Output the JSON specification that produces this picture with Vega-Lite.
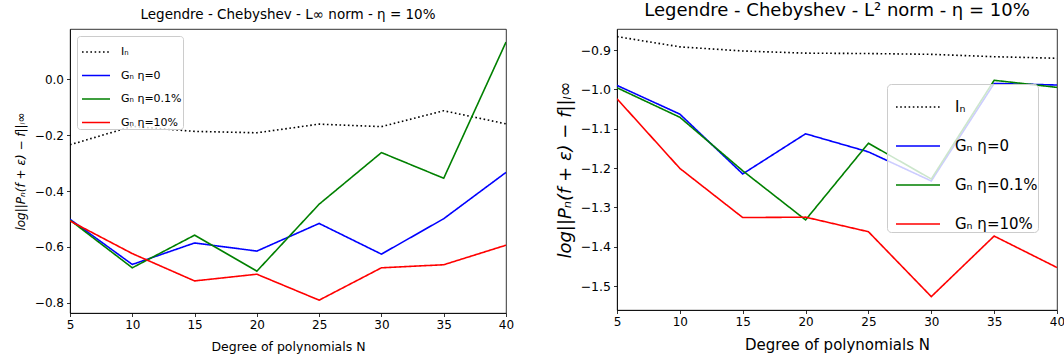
{
  "$schema": "https://vega.github.io/schema/vega-lite/v6.json",
  "background": "white",
  "padding": {"left": 13, "top": 1, "right": 2, "bottom": 2},
  "config": {
    "font": "DejaVu Sans",
    "view": {"stroke": "#000000", "strokeWidth": 0.8},
    "axis": {"grid": false, "domainColor": "#000000", "domainWidth": 0.8, "tickColor": "#000000", "tickWidth": 0.8, "tickSize": 3.5, "labelColor": "#000000", "titleColor": "#000000", "labelFont": "DejaVu Sans", "titleFont": "DejaVu Sans", "titleFontWeight": "normal", "labelPadding": 3},
    "title": {"font": "DejaVu Sans", "fontWeight": "normal", "color": "#000000"},
    "legend": {"labelFont": "DejaVu Sans", "labelColor": "#000000"}
  },
  "spacing": 40,
  "datasets": {
    "linf": [
      {"N": 5, "value": -0.234, "series": "Iₙ"},
      {"N": 10, "value": -0.168, "series": "Iₙ"},
      {"N": 15, "value": -0.186, "series": "Iₙ"},
      {"N": 20, "value": -0.191, "series": "Iₙ"},
      {"N": 25, "value": -0.160, "series": "Iₙ"},
      {"N": 30, "value": -0.169, "series": "Iₙ"},
      {"N": 35, "value": -0.112, "series": "Iₙ"},
      {"N": 40, "value": -0.159, "series": "Iₙ"},
      {"N": 5, "value": -0.501, "series": "Gₙ η=0"},
      {"N": 10, "value": -0.663, "series": "Gₙ η=0"},
      {"N": 15, "value": -0.586, "series": "Gₙ η=0"},
      {"N": 20, "value": -0.615, "series": "Gₙ η=0"},
      {"N": 25, "value": -0.516, "series": "Gₙ η=0"},
      {"N": 30, "value": -0.626, "series": "Gₙ η=0"},
      {"N": 35, "value": -0.499, "series": "Gₙ η=0"},
      {"N": 40, "value": -0.333, "series": "Gₙ η=0"},
      {"N": 5, "value": -0.504, "series": "Gₙ η=0.1%"},
      {"N": 10, "value": -0.675, "series": "Gₙ η=0.1%"},
      {"N": 15, "value": -0.558, "series": "Gₙ η=0.1%"},
      {"N": 20, "value": -0.687, "series": "Gₙ η=0.1%"},
      {"N": 25, "value": -0.447, "series": "Gₙ η=0.1%"},
      {"N": 30, "value": -0.262, "series": "Gₙ η=0.1%"},
      {"N": 35, "value": -0.354, "series": "Gₙ η=0.1%"},
      {"N": 40, "value": 0.134, "series": "Gₙ η=0.1%"},
      {"N": 5, "value": -0.507, "series": "Gₙ η=10%"},
      {"N": 10, "value": -0.624, "series": "Gₙ η=10%"},
      {"N": 15, "value": -0.722, "series": "Gₙ η=10%"},
      {"N": 20, "value": -0.698, "series": "Gₙ η=10%"},
      {"N": 25, "value": -0.791, "series": "Gₙ η=10%"},
      {"N": 30, "value": -0.675, "series": "Gₙ η=10%"},
      {"N": 35, "value": -0.664, "series": "Gₙ η=10%"},
      {"N": 40, "value": -0.594, "series": "Gₙ η=10%"}
    ],
    "l2": [
      {"N": 5, "value": -0.866, "series": "Iₙ"},
      {"N": 10, "value": -0.892, "series": "Iₙ"},
      {"N": 15, "value": -0.9025, "series": "Iₙ"},
      {"N": 20, "value": -0.908, "series": "Iₙ"},
      {"N": 25, "value": -0.909, "series": "Iₙ"},
      {"N": 30, "value": -0.911, "series": "Iₙ"},
      {"N": 35, "value": -0.917, "series": "Iₙ"},
      {"N": 40, "value": -0.921, "series": "Iₙ"},
      {"N": 5, "value": -0.990, "series": "Gₙ η=0"},
      {"N": 10, "value": -1.063, "series": "Gₙ η=0"},
      {"N": 15, "value": -1.215, "series": "Gₙ η=0"},
      {"N": 20, "value": -1.113, "series": "Gₙ η=0"},
      {"N": 25, "value": -1.159, "series": "Gₙ η=0"},
      {"N": 30, "value": -1.233, "series": "Gₙ η=0"},
      {"N": 35, "value": -0.985, "series": "Gₙ η=0"},
      {"N": 40, "value": -0.989, "series": "Gₙ η=0"},
      {"N": 5, "value": -0.996, "series": "Gₙ η=0.1%"},
      {"N": 10, "value": -1.071, "series": "Gₙ η=0.1%"},
      {"N": 15, "value": -1.207, "series": "Gₙ η=0.1%"},
      {"N": 20, "value": -1.332, "series": "Gₙ η=0.1%"},
      {"N": 25, "value": -1.137, "series": "Gₙ η=0.1%"},
      {"N": 30, "value": -1.228, "series": "Gₙ η=0.1%"},
      {"N": 35, "value": -0.977, "series": "Gₙ η=0.1%"},
      {"N": 40, "value": -0.995, "series": "Gₙ η=0.1%"},
      {"N": 5, "value": -1.024, "series": "Gₙ η=10%"},
      {"N": 10, "value": -1.201, "series": "Gₙ η=10%"},
      {"N": 15, "value": -1.326, "series": "Gₙ η=10%"},
      {"N": 20, "value": -1.325, "series": "Gₙ η=10%"},
      {"N": 25, "value": -1.362, "series": "Gₙ η=10%"},
      {"N": 30, "value": -1.527, "series": "Gₙ η=10%"},
      {"N": 35, "value": -1.373, "series": "Gₙ η=10%"},
      {"N": 40, "value": -1.453, "series": "Gₙ η=10%"}
    ]
  },
  "hconcat": [
    {
      "width": 436,
      "height": 284,
      "title": {"text": "Legendre - Chebyshev - L∞ norm - η = 10%", "fontSize": 13.5, "offset": 8},
      "data": {"name": "linf"},
      "mark": {"type": "line", "strokeWidth": 1.6, "clip": true},
      "encoding": {
        "x": {"field": "N", "type": "quantitative", "scale": {"domain": [5, 40], "nice": false, "zero": false},
              "axis": {"values": [5, 10, 15, 20, 25, 30, 35, 40], "title": "Degree of polynomials N", "titleFontSize": 12.5, "labelFontSize": 12, "labelFlush": false, "titlePadding": 10}},
        "y": {"field": "value", "type": "quantitative", "scale": {"domain": [-0.837, 0.181], "nice": false, "zero": false},
              "axis": {"values": [-0.8, -0.6, -0.4, -0.2, 0], "format": ".1f", "title": "log||Pₙ(f + ε) − f||ₗ∞", "titleFontSize": 12, "titleFontStyle": "italic", "labelFontSize": 12, "titlePadding": 7}},
        "color": {"field": "series", "type": "nominal",
                  "scale": {"domain": ["Iₙ", "Gₙ η=0", "Gₙ η=0.1%", "Gₙ η=10%"], "range": ["#000000", "#0000ff", "#008000", "#ff0000"]},
                  "legend": {"title": null, "orient": "top-left", "offset": 7, "padding": 1, "symbolOffset": 3, "symbolType": "stroke", "symbolSize": 784, "symbolStrokeWidth": 1.6, "labelFontSize": 11, "labelOffset": 10, "rowPadding": 3.5, "fillColor": "rgba(255,255,255,0.8)", "strokeColor": "#cccccc", "cornerRadius": 3}},
        "strokeDash": {"field": "series", "type": "nominal",
                  "scale": {"domain": ["Iₙ", "Gₙ η=0", "Gₙ η=0.1%", "Gₙ η=10%"], "range": [[1.6, 2.6], [1, 0], [1, 0], [1, 0]]},
                  "legend": {"title": null, "orient": "top-left", "offset": 7, "padding": 1, "symbolOffset": 3, "symbolType": "stroke", "symbolSize": 784, "symbolStrokeWidth": 1.6, "labelFontSize": 11, "labelOffset": 10, "rowPadding": 3.5, "fillColor": "rgba(255,255,255,0.8)", "strokeColor": "#cccccc", "cornerRadius": 3}}
      }
    },
    {
      "width": 440,
      "height": 281,
      "title": {"text": "Legendre - Chebyshev - L² norm - η = 10%", "fontSize": 18, "offset": 9},
      "data": {"name": "l2"},
      "mark": {"type": "line", "strokeWidth": 1.6, "clip": true},
      "encoding": {
        "x": {"field": "N", "type": "quantitative", "scale": {"domain": [5, 40], "nice": false, "zero": false},
              "axis": {"values": [5, 10, 15, 20, 25, 30, 35, 40], "title": "Degree of polynomials N", "titleFontSize": 15, "labelFontSize": 12, "labelFlush": false, "titlePadding": 10}},
        "y": {"field": "value", "type": "quantitative", "scale": {"domain": [-1.561, -0.8466], "nice": false, "zero": false},
              "axis": {"values": [-1.5, -1.4, -1.3, -1.2, -1.1, -1.0, -0.9], "format": ".1f", "title": "log||Pₙ(f + ε) − f||ₗ∞", "titleFontSize": 18, "titleFontStyle": "italic", "labelFontSize": 12.5, "titlePadding": 6}},
        "color": {"field": "series", "type": "nominal",
                  "scale": {"domain": ["Iₙ", "Gₙ η=0", "Gₙ η=0.1%", "Gₙ η=10%"], "range": ["#000000", "#0000ff", "#008000", "#ff0000"]},
                  "legend": {"title": null, "orient": "none", "legendX": 270, "legendY": 55, "padding": 0, "symbolOffset": 8, "symbolType": "stroke", "symbolSize": 1936, "symbolStrokeWidth": 1.6, "labelFontSize": 15, "labelOffset": 14, "rowPadding": 8, "fillColor": "rgba(255,255,255,0.8)", "strokeColor": "#cccccc", "cornerRadius": 4}},
        "strokeDash": {"field": "series", "type": "nominal",
                  "scale": {"domain": ["Iₙ", "Gₙ η=0", "Gₙ η=0.1%", "Gₙ η=10%"], "range": [[1.6, 2.6], [1, 0], [1, 0], [1, 0]]},
                  "legend": {"title": null, "orient": "none", "legendX": 270, "legendY": 55, "padding": 0, "symbolOffset": 8, "symbolType": "stroke", "symbolSize": 1936, "symbolStrokeWidth": 1.6, "labelFontSize": 15, "labelOffset": 14, "rowPadding": 8, "fillColor": "rgba(255,255,255,0.8)", "strokeColor": "#cccccc", "cornerRadius": 4}}
      }
    }
  ]
}
